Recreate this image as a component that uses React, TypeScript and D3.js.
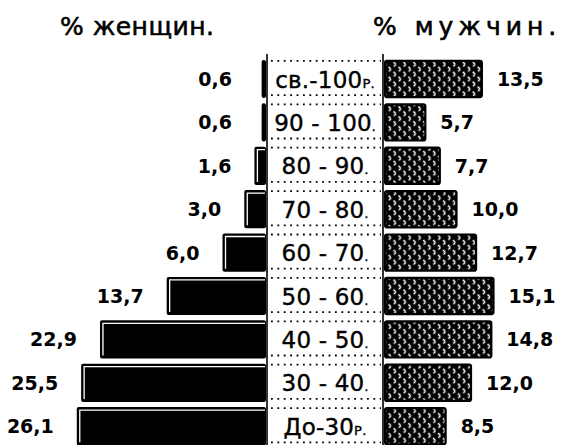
import React from 'react';
import * as d3 from 'd3';

const ageGroups = ["св.-100р.", "90 - 100.", "80 - 90.", "70 - 80.", "60 - 70.", "50 - 60.", "40 - 50.", "30 - 40.", "До-30р."];
const womenPct = [0.6, 0.6, 1.6, 3.0, 6.0, 13.7, 22.9, 25.5, 26.1];
const menPct = [13.5, 5.7, 7.7, 10.0, 12.7, 15.1, 14.8, 12.0, 8.5];
const titleWomen = "% женщин.";
const titleMen = "% мужчин.";

const W = 586;
const H = 445;
const FONT = "'DejaVu Sans', sans-serif";

const fmt = (v: number) => d3.format(".1f")(v).replace(".", ",");

export default function App() {
  const colL = 267;
  const colR = 383;
  const y = d3.scaleBand<string>()
    .domain(ageGroups)
    .range([57.3, 447.9])
    .paddingInner(0.12)
    .paddingOuter(0.06);
  const xL = d3.scaleLinear().domain([0, 30]).range([colL - 1, colL - 1 - 217.5]);
  const xR = d3.scaleLinear().domain([0, 30]).range([colR + 1, colR + 1 + 217.5]);
  const bw = y.bandwidth();

  const renderAge = (lab: string) => {
    if (lab.endsWith("р.")) {
      return (
        <>
          {lab.slice(0, -2)}
          <tspan fontSize={13}>Р.</tspan>
        </>
      );
    }
    return (
      <>
        {lab.slice(0, -1)}
        <tspan fontSize={12}>.</tspan>
      </>
    );
  };

  return (
    <svg width={W} height={H} style={{ position: 'absolute', left: 0, top: 0, background: '#fff' }} fontFamily={FONT}>
      <defs>
        <pattern id="hatch" width="7" height="7" patternUnits="userSpaceOnUse" patternTransform="rotate(45)">
          <rect width="7" height="7" fill="#000" />
          <line x1="0" y1="3.5" x2="7" y2="3.5" stroke="#fff" strokeWidth="1.5" strokeDasharray="3 4" />
          <line x1="3.5" y1="0" x2="3.5" y2="7" stroke="#fff" strokeWidth="1.5" strokeDasharray="3 4" strokeDashoffset="3.5" />
        </pattern>
      </defs>

      {/* Titles */}
      <text x={60} y={35} fontSize={25} letterSpacing={0.5} fill="#000" stroke="#000" strokeWidth={0.6}>{titleWomen}</text>
      <text x={373} y={35} fontSize={25} letterSpacing={5} fill="#000" stroke="#000" strokeWidth={0.6}>{titleMen}</text>

      {/* Center column vertical lines */}
      <line x1={colL} x2={colL} y1={54} y2={H} stroke="#000" strokeWidth={1.6} />
      <line x1={colR} x2={colR} y1={54} y2={H} stroke="#000" strokeWidth={1.6} />

      {ageGroups.map((g, i) => {
        const y0 = y(g)!;
        const cy = y0 + bw / 2;
        const wl = womenPct[i];
        const wm = menPct[i];
        const lx = xL(wl);
        const rx = xR(wm);
        return (
          <g key={g}>
            {/* dotted lines in center */}
            <line x1={colL + 4} x2={colR - 2} y1={y0 + 1} y2={y0 + 1} stroke="#000" strokeWidth={1.8} strokeDasharray="1.8 4.6" />
            <line x1={colL + 4} x2={colR - 2} y1={y0 + bw - 3} y2={y0 + bw - 3} stroke="#000" strokeWidth={1.8} strokeDasharray="1.8 4.6" />
            <text x={(colL + colR) / 2} y={cy + 8.5} fontSize={23} textAnchor="middle" fill="#000" stroke="#000" strokeWidth={0.4} letterSpacing={0.2}>
              {renderAge(g)}
            </text>

            {/* women bar */}
            <rect x={lx} y={y0} width={xL(0) - lx} height={bw} rx={2} fill="#000" />
            {xL(0) - lx > 8 && (
              <path
                d={`M${lx + 3},${y0 + bw - 3} L${lx + 3},${y0 + 3} L${xL(0) - 1},${y0 + 3}`}
                fill="none"
                stroke="#fff"
                strokeWidth={1.3}
              />
            )}
            <text x={Math.min(lx - 23, 232)} y={cy + 7} fontSize={19} fontWeight="bold" textAnchor="end" fill="#000">
              {fmt(wl)}
            </text>

            {/* men bar */}
            <rect x={xR(0) + 1} y={y0 + 1} width={rx - xR(0) - 1} height={bw - 2} rx={2} fill="url(#hatch)" stroke="#000" strokeWidth={2.2} />
            <text x={rx + 15} y={cy + 7} fontSize={19} fontWeight="bold" textAnchor="start" fill="#000">
              {fmt(wm)}
            </text>
          </g>
        );
      })}
    </svg>
  );
}
